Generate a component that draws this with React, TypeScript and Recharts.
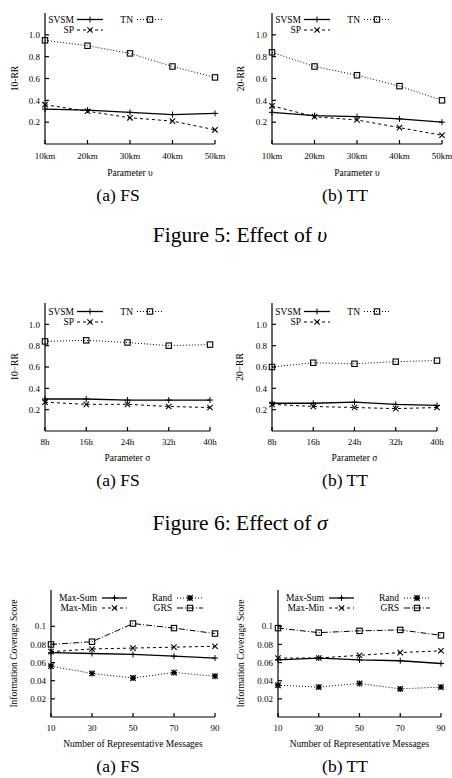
import { LineChart, Line, XAxis, YAxis, Legend } from "recharts";

const FONT = '"Liberation Serif", "Times New Roman", serif';

// x categories
const KM = [10, 20, 30, 40, 50];
const HOURS = [8, 16, 24, 32, 40];
const REPS = [10, 30, 50, 70, 90];

// y ticks
const RR_TICKS = [0.2, 0.4, 0.6, 0.8, 1.0];
const SCORE_TICKS = [0.02, 0.04, 0.06, 0.08, 0.1];

// Figure 5 (parameter υ)
const SVSM_FS_5 = [0.32, 0.31, 0.29, 0.27, 0.28];
const SP_FS_5 = [0.36, 0.3, 0.24, 0.21, 0.13];
const TN_FS_5 = [0.95, 0.9, 0.83, 0.71, 0.61];
const SVSM_TT_5 = [0.29, 0.26, 0.25, 0.23, 0.2];
const SP_TT_5 = [0.35, 0.25, 0.22, 0.15, 0.08];
const TN_TT_5 = [0.84, 0.71, 0.63, 0.53, 0.4];

// Figure 6 (parameter σ)
const SVSM_FS_6 = [0.3, 0.3, 0.29, 0.29, 0.29];
const SP_FS_6 = [0.27, 0.25, 0.25, 0.23, 0.22];
const TN_FS_6 = [0.84, 0.85, 0.83, 0.8, 0.81];
const SVSM_TT_6 = [0.26, 0.26, 0.27, 0.25, 0.24];
const SP_TT_6 = [0.25, 0.23, 0.22, 0.21, 0.22];
const TN_TT_6 = [0.6, 0.64, 0.63, 0.65, 0.66];

// information coverage score
const MAXSUM_FS = [0.071, 0.07, 0.069, 0.067, 0.065];
const MAXMIN_FS = [0.072, 0.075, 0.076, 0.077, 0.078];
const RAND_FS = [0.056, 0.048, 0.043, 0.049, 0.045];
const GRS_FS = [0.08, 0.083, 0.103, 0.098, 0.092];
const MAXSUM_TT = [0.063, 0.065, 0.063, 0.062, 0.059];
const MAXMIN_TT = [0.065, 0.065, 0.068, 0.071, 0.073];
const RAND_TT = [0.035, 0.033, 0.037, 0.031, 0.033];
const GRS_TT = [0.098, 0.093, 0.095, 0.096, 0.09];

type MarkerKind = "plus" | "cross" | "star" | "box";

type Style = { label: string; marker: MarkerKind; dash?: string; width: number };

const STYLES: Record<string, Style> = {
  svsm: { label: "SVSM", marker: "plus", width: 1.3 },
  sp: { label: "SP", marker: "cross", dash: "3 3", width: 1 },
  tn: { label: "TN", marker: "box", dash: "1 2", width: 1 },
  maxSum: { label: "Max-Sum", marker: "plus", width: 1.3 },
  maxMin: { label: "Max-Min", marker: "cross", dash: "3 3", width: 1 },
  rand: { label: "Rand", marker: "star", dash: "1 2", width: 1 },
  grs: { label: "GRS", marker: "box", dash: "6 2 1 2", width: 1 },
};

function Marker({ kind, cx, cy }: { kind: MarkerKind; cx?: number; cy?: number }) {
  if (cx == null || cy == null) return null;
  const s = 2.7;
  if (kind === "plus")
    return <path d={`M${cx - 3},${cy}H${cx + 3}M${cx},${cy - 3}V${cy + 3}`} stroke="#000" strokeWidth={1} fill="none" />;
  if (kind === "cross")
    return (
      <path
        d={`M${cx - s},${cy - s}L${cx + s},${cy + s}M${cx - s},${cy + s}L${cx + s},${cy - s}`}
        stroke="#000"
        strokeWidth={1.1}
        fill="none"
      />
    );
  if (kind === "star")
    return (
      <path
        d={`M${cx - s},${cy - s}L${cx + s},${cy + s}M${cx - s},${cy + s}L${cx + s},${cy - s}M${cx - 3},${cy}H${cx + 3}M${cx},${cy - 3}V${cy + 3}`}
        stroke="#000"
        strokeWidth={1.3}
        fill="none"
      />
    );
  return <rect x={cx - 2.7} y={cy - 2.7} width={5.4} height={5.4} stroke="#000" strokeWidth={1.1} fill="none" />;
}

type LegendCol = { text: number; from: number; to: number };
type LegendSpec = { cols: LegendCol[]; items: [string, number, number][] };

const RR_LEGEND: LegendSpec = {
  cols: [
    { text: 29, from: 32, to: 58 },
    { text: 88, from: 92, to: 118 },
  ],
  items: [
    ["svsm", 0, 0],
    ["tn", 1, 0],
    ["sp", 0, 1],
  ],
};

const SCORE_LEGEND: LegendSpec = {
  cols: [
    { text: 46, from: 51, to: 76 },
    { text: 121, from: 126, to: 152 },
  ],
  items: [
    ["maxSum", 0, 0],
    ["rand", 1, 0],
    ["maxMin", 0, 1],
    ["grs", 1, 1],
  ],
};

function LegendBox({ spec, rows }: { spec: LegendSpec; rows: number[] }) {
  return (
    <svg width={170} height={28} style={{ display: "block", overflow: "visible" }}>
      {spec.items.map(([key, c, r]) => {
        const st = STYLES[key];
        const col = spec.cols[c];
        const y = rows[r];
        return (
          <g key={key}>
            <text
              x={col.text}
              y={y}
              textAnchor="end"
              dominantBaseline="central"
              fontFamily={FONT}
              fontSize={9.5}
              fill="#000"
            >
              {st.label}
            </text>
            <line x1={col.from} x2={col.to} y1={y} y2={y} stroke="#000" strokeWidth={st.width} strokeDasharray={st.dash} />
            <Marker kind={st.marker} cx={(col.from + col.to) / 2} cy={y} />
          </g>
        );
      })}
    </svg>
  );
}

type Box = { l: number; t: number; r: number; b: number };
type SeriesIn = { key: string; values: number[] };

type PanelProps = {
  box: Box;
  xs: number[];
  xFmt: (v: number) => string;
  yMax: number;
  yTicks: number[];
  yFmt: (v: number) => string;
  series: SeriesIn[];
  yTitle: string;
  yGap: number;
  xTitle: string;
  tickMargin: number;
  xAxisH: number;
  legend: LegendSpec;
  legendRows: number[];
};

const AXIS_W = 45;
const PAD = 4;
// room on the right for the last x tick label
const RIGHT = 16;

function Panel(p: PanelProps) {
  const rows = p.xs.map((x, i) => {
    const row: Record<string, number> = { x };
    p.series.forEach((s) => (row[s.key] = s.values[i]));
    return row;
  });
  const w = p.box.r - p.box.l;
  const h = p.box.b - p.box.t;
  const tickStyle = { fill: "#000", fontSize: 9, fontFamily: FONT };
  const xDomain = [p.xs[0], p.xs[p.xs.length - 1]];

  return (
    <div style={{ position: "absolute", left: p.box.l - AXIS_W, top: p.box.t - PAD }}>
      <LineChart
        width={AXIS_W + w + RIGHT}
        height={PAD + h + p.xAxisH + PAD}
        data={rows}
        margin={{ top: PAD, right: RIGHT, bottom: PAD, left: 0 }}
      >
        <XAxis
          xAxisId="b"
          dataKey="x"
          type="number"
          domain={xDomain}
          ticks={p.xs}
          interval={0}
          tickFormatter={p.xFmt}
          tickSize={-4}
          tickMargin={p.tickMargin}
          height={p.xAxisH}
          stroke="#000"
          strokeWidth={1.2}
          tick={tickStyle}
          label={{ value: p.xTitle, position: "insideBottom", offset: 0, fill: "#000", fontSize: 9.5, fontFamily: FONT }}
        />
        <XAxis
          xAxisId="t"
          orientation="top"
          dataKey="x"
          type="number"
          domain={xDomain}
          ticks={p.xs}
          tick={false}
          tickSize={-4}
          height={0}
          stroke="#000"
          strokeWidth={1.2}
        />
        <YAxis
          yAxisId="l"
          type="number"
          domain={[0, p.yMax]}
          ticks={p.yTicks}
          interval={0}
          tickFormatter={p.yFmt}
          tickSize={-4}
          tickMargin={9}
          width={AXIS_W}
          stroke="#000"
          strokeWidth={1.2}
          tick={tickStyle}
          label={{
            value: p.yTitle,
            angle: -90,
            position: "center",
            dx: AXIS_W / 2 - p.yGap,
            fill: "#000",
            fontSize: 9.5,
            fontFamily: FONT,
          }}
        />
        <YAxis
          yAxisId="r"
          orientation="right"
          type="number"
          domain={[0, p.yMax]}
          ticks={p.yTicks}
          tick={false}
          tickSize={-4}
          width={0}
          stroke="#000"
          strokeWidth={1.2}
        />
        <Legend
          verticalAlign="middle"
          align="center"
          layout="horizontal"
          wrapperStyle={{ left: AXIS_W, top: PAD, width: 170, height: 28 }}
          content={() => <LegendBox spec={p.legend} rows={p.legendRows} />}
        />
        {p.series.map((s) => {
          const st = STYLES[s.key];
          return (
            <Line
              key={s.key}
              xAxisId="b"
              yAxisId="l"
              dataKey={s.key}
              name={st.label}
              type="linear"
              stroke="#000"
              strokeWidth={st.width}
              strokeDasharray={st.dash}
              dot={(d: any) => <Marker key={`${s.key}-${d.index}`} kind={st.marker} cx={d.cx} cy={d.cy} />}
              activeDot={false}
              isAnimationActive={false}
            />
          );
        })}
      </LineChart>
    </div>
  );
}

const km = (v: number) => `${v}km`;
const hr = (v: number) => `${v}h`;
const one = (v: number) => v.toFixed(1);
const two = (v: number) => String(+v.toFixed(2));
const plain = (v: number) => String(v);

const RR = { yMax: 1.2, yTicks: RR_TICKS, yFmt: one, legend: RR_LEGEND };
const SCORE = { yMax: 0.14, yTicks: SCORE_TICKS, yFmt: two, legend: SCORE_LEGEND };

function Captions() {
  const sub = { fontFamily: FONT, fontSize: 17.5, fill: "#000", textAnchor: "middle" as const };
  const fig = { fontFamily: FONT, fontSize: 21.5, fill: "#000", textAnchor: "middle" as const };
  return (
    <svg width={452} height={778} style={{ position: "absolute", left: 0, top: 0, pointerEvents: "none" }}>
      <text x={118} y={201} {...sub}>(a) FS</text>
      <text x={345} y={201} {...sub}>(b) TT</text>
      <text x={240} y={242} {...fig}>
        Figure 5: Effect of <tspan fontStyle="italic">υ</tspan>
      </text>
      <text x={118} y={486} {...sub}>(a) FS</text>
      <text x={345} y={486} {...sub}>(b) TT</text>
      <text x={240} y={530} {...fig}>
        Figure 6: Effect of <tspan fontStyle="italic">σ</tspan>
      </text>
      <text x={118} y={772} {...sub}>(a) FS</text>
      <text x={345} y={772} {...sub}>(b) TT</text>
    </svg>
  );
}

export default function App() {
  return (
    <div style={{ position: "absolute", left: 0, top: 0, width: 452, height: 778, background: "#fff", overflow: "hidden" }}>
      <Captions />
      <Panel
        {...RR}
        box={{ l: 45, t: 13, r: 215, b: 144 }}
        xs={KM}
        xFmt={km}
        series={[
          { key: "svsm", values: SVSM_FS_5 },
          { key: "sp", values: SP_FS_5 },
          { key: "tn", values: TN_FS_5 },
        ]}
        yTitle="10-RR"
        yGap={30}
        xTitle="Parameter υ"
        tickMargin={13}
        xAxisH={31.5}
        legendRows={[6.5, 17]}
      />
      <Panel
        {...RR}
        box={{ l: 272, t: 13, r: 442, b: 144 }}
        xs={KM}
        xFmt={km}
        series={[
          { key: "svsm", values: SVSM_TT_5 },
          { key: "sp", values: SP_TT_5 },
          { key: "tn", values: TN_TT_5 },
        ]}
        yTitle="20-RR"
        yGap={31}
        xTitle="Parameter υ"
        tickMargin={13}
        xAxisH={31.5}
        legendRows={[6.5, 17]}
      />
      <Panel
        {...RR}
        box={{ l: 45, t: 303, r: 210, b: 431 }}
        xs={HOURS}
        xFmt={hr}
        series={[
          { key: "svsm", values: SVSM_FS_6 },
          { key: "sp", values: SP_FS_6 },
          { key: "tn", values: TN_FS_6 },
        ]}
        yTitle="10−RR"
        yGap={30}
        xTitle="Parameter σ"
        tickMargin={12}
        xAxisH={29.5}
        legendRows={[8.5, 19]}
      />
      <Panel
        {...RR}
        box={{ l: 272, t: 303, r: 437, b: 431 }}
        xs={HOURS}
        xFmt={hr}
        series={[
          { key: "svsm", values: SVSM_TT_6 },
          { key: "sp", values: SP_TT_6 },
          { key: "tn", values: TN_TT_6 },
        ]}
        yTitle="20−RR"
        yGap={32}
        xTitle="Parameter σ"
        tickMargin={12}
        xAxisH={29.5}
        legendRows={[8.5, 19]}
      />
      <Panel
        {...SCORE}
        box={{ l: 51, t: 590, r: 215, b: 717 }}
        xs={REPS}
        xFmt={plain}
        series={[
          { key: "maxSum", values: MAXSUM_FS },
          { key: "maxMin", values: MAXMIN_FS },
          { key: "rand", values: RAND_FS },
          { key: "grs", values: GRS_FS },
        ]}
        yTitle="Information Coverage Score"
        yGap={37}
        xTitle="Number of Representative Messages"
        tickMargin={12}
        xAxisH={29.5}
        legendRows={[8, 18]}
      />
      <Panel
        {...SCORE}
        box={{ l: 278, t: 590, r: 441, b: 717 }}
        xs={REPS}
        xFmt={plain}
        series={[
          { key: "maxSum", values: MAXSUM_TT },
          { key: "maxMin", values: MAXMIN_TT },
          { key: "rand", values: RAND_TT },
          { key: "grs", values: GRS_TT },
        ]}
        yTitle="Information Coverage Score"
        yGap={37}
        xTitle="Number of Representative Messages"
        tickMargin={12}
        xAxisH={29.5}
        legendRows={[8, 18]}
      />
    </div>
  );
}
